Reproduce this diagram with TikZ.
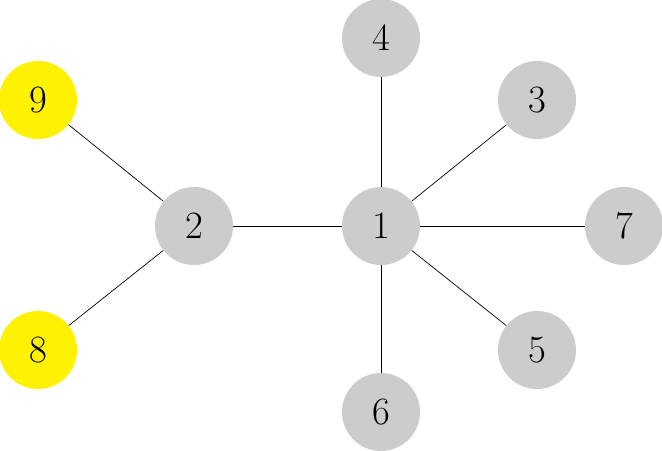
\documentclass[tikz,border=0pt]{standalone}
\usetikzlibrary{positioning}
\tikzstyle{vtx}=[circle, fill=gray!40, minimum size=1.56cm, inner sep=0,
		font=\fontsize{22}{26}\selectfont]
\tikzstyle{leaf}=[vtx, fill=yellow]
\begin{document}
\begin{tikzpicture}[x=0.02cm, y=-0.02cm]
                \useasboundingbox (0,0) rectangle (662,450);
                \node[vtx] (n1) at (381,226) {1};
                \node[vtx] (n2) at (194,226) {2};
                \node[vtx] (n3) at (537,100) {3};
                \node[vtx] (n4) at (381,38) {4};
                \node[vtx] (n5) at (537,350) {5};
                \node[vtx] (n6) at (381,412) {6};
                \node[vtx] (n7) at (624,226) {7};
                \node[leaf] (n8) at (38,350) {8};
                \node[leaf] (n9) at (38,100) {9};
                \draw (n1) -- (n2);
                \draw (n1) -- (n3);
                \draw (n1) -- (n4);
                \draw (n1) -- (n5);
                \draw (n1) -- (n6);
                \draw (n1) -- (n7);
                \draw (n2) -- (n8);
                \draw (n2) -- (n9);
            \end{tikzpicture}
\end{document}
